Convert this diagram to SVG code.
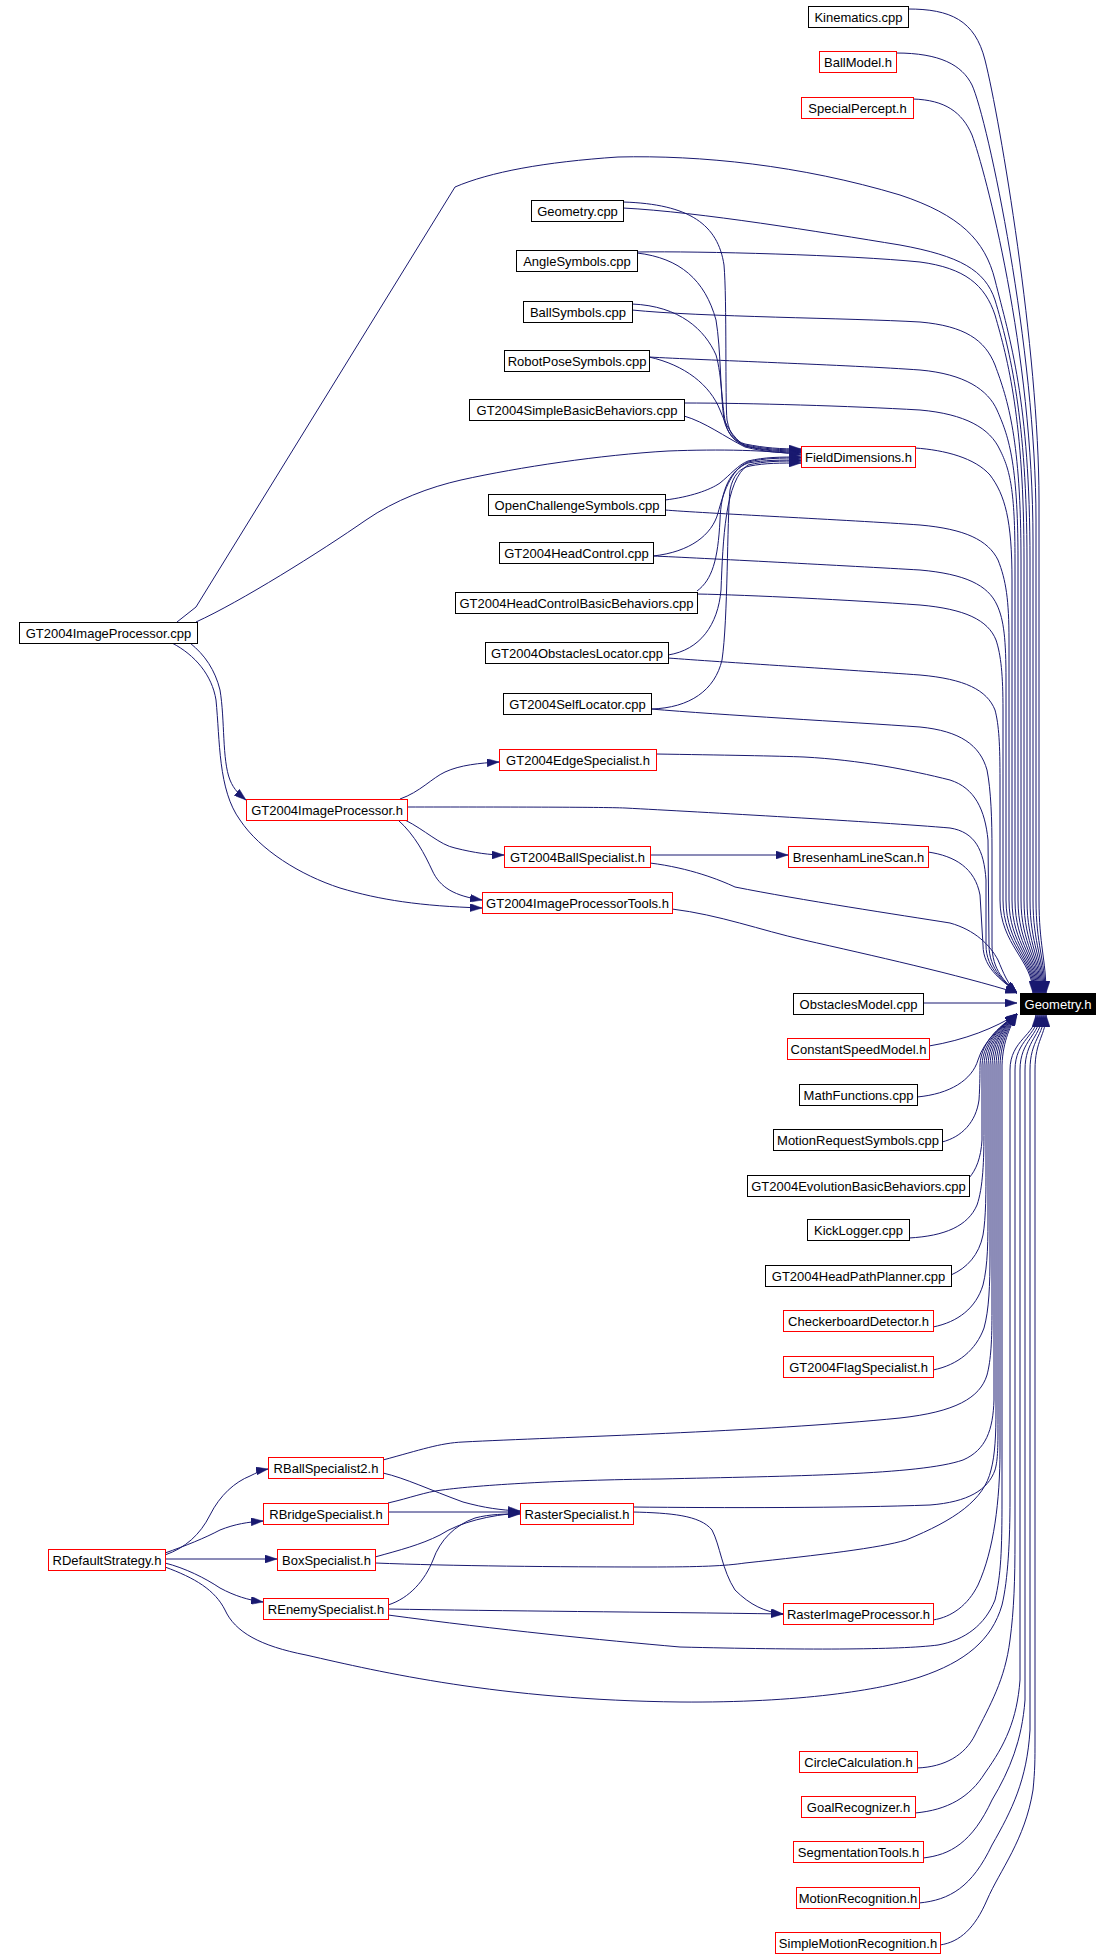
<svg xmlns="http://www.w3.org/2000/svg" width="1111" height="1959" viewBox="0 0 1111 1959">
<style>
.n rect{fill:#fff;stroke:#000;stroke-width:1}
.r rect{stroke:#f00}
.k rect{fill:#000;stroke:#000}
.k text{fill:#fff}
text{font-family:"Liberation Sans",Arial,sans-serif;font-size:13px;text-anchor:middle;fill:#000}
.e path{fill:none;stroke:#191970;stroke-width:1;marker-end:url(#a)}
</style>
<defs>
<marker id="a" viewBox="0 0 12 8" refX="12" refY="4" markerWidth="12" markerHeight="8" markerUnits="userSpaceOnUse" orient="auto"><path d="M0,0L12,4L0,8z" fill="#191970" stroke="#191970" stroke-width="0.5"/></marker>
</defs>
<rect width="1111" height="1959" fill="#fff"/>
<g id="edges" class="e">
<path d="M908,9 C950,9 975,20 985,60 C1000,120 1039,350 1039,500 L1039,900 C1039,945 1046,960 1046,993"/>
<path d="M896,53 C940,53 962,65 972,85 C988,120 1036,350 1036,520 L1036,900 C1036,945 1045,960 1045,993"/>
<path d="M913,99 C945,100 962,112 972,135 C985,170 1033,350 1033,540 L1033,900 C1033,945 1044,960 1044,993"/>
<path d="M177,622 L196,607 L455,187 C490,172 544,162 618,157 C700,155 800,165 900,195 C960,215 985,240 995,280 C1010,340 1030,400 1030,560 L1030,900 C1030,945 1043,960 1043,993"/>
<path d="M623,208 C700,212 820,232 900,245 C960,256 985,270 995,300 C1010,350 1027,420 1027,560 L1027,900 C1027,945 1042,960 1042,993"/>
<path d="M637,252 C700,251 850,255 920,262 C965,268 985,285 995,315 C1008,360 1024,420 1024,560 L1024,900 C1024,945 1041,960 1041,993"/>
<path d="M632,310 C700,317 850,318 920,322 C965,326 985,340 995,365 C1008,400 1021,440 1021,560 L1021,900 C1021,945 1040,960 1040,993"/>
<path d="M649,357 C700,360 850,365 920,370 C965,374 988,390 997,410 C1008,435 1018,460 1018,560 L1018,900 C1018,945 1039,960 1039,993"/>
<path d="M684,403 C750,403 850,406 920,410 C965,414 990,428 1000,450 C1010,470 1015,490 1015,560 L1015,900 C1015,945 1038,960 1038,993"/>
<path d="M915,448 C945,450 975,458 990,475 C1005,495 1012,520 1012,580 L1012,900 C1012,945 1037,960 1037,993"/>
<path d="M665,510 C700,513 850,520 920,525 C965,529 988,540 998,560 C1006,580 1009,600 1009,640 L1009,900 C1009,945 1036,960 1036,993"/>
<path d="M653,556 C700,558 850,566 920,570 C965,574 988,585 997,605 C1004,620 1006,640 1006,680 L1006,900 C1006,945 1035,960 1035,993"/>
<path d="M697,594 C750,595 850,600 920,605 C965,609 988,620 996,640 C1001,655 1003,675 1003,710 L1003,900 C1003,945 1034,960 1034,993"/>
<path d="M668,658 C720,662 850,670 920,675 C965,679 987,690 995,710 C999,725 1000,745 1000,780 L1000,900 C1000,945 1033,960 1033,993"/>
<path d="M651,709 C720,715 850,722 920,727 C960,731 980,745 987,770 C991,790 992,820 992,850 L992,945 C992,970 1005,982 1017,993"/>
<path d="M656,754 C720,755 780,756 804,757 C860,760 910,770 950,780 C975,788 985,810 988,840 L989,945 C989,970 1005,982 1017,993"/>
<path d="M407,807 C500,807 600,807 625,808 C700,812 880,822 950,828 C975,832 984,850 986,880 L986,945 C986,970 1005,982 1017,993"/>
<path d="M928,852 C955,856 975,868 980,895 L983,945 C983,970 1005,982 1017,993"/>
<path d="M650,863 C690,868 720,880 735,887 C800,900 900,915 950,923 C975,930 990,945 998,960 C1003,972 1008,985 1017,993"/>
<path d="M672,909 C720,915 760,930 804,940 C870,955 960,975 1017,993"/>
<path d="M923,1003 L1017,1003"/>
<path d="M929,1046 C965,1040 995,1028 1017,1014"/>
<path d="M917,1097 C950,1094 972,1080 978,1060 C984,1040 1003,1024 1017,1014"/>
<path d="M942,1142 C962,1137 976,1122 979,1100 C980,1085 980,1070 980,1065 C981,1040 1003,1024 1017,1014"/>
<path d="M969,1178 C976,1170 981,1158 982,1140 L982,1065 C983,1040 1004,1024 1017,1014"/>
<path d="M909,1238 C945,1236 968,1226 977,1205 C983,1188 984,1160 984,1130 L984,1065 C985,1040 1004,1024 1017,1014"/>
<path d="M951,1275 C967,1268 979,1255 983,1235 C986,1218 986,1190 986,1170 L986,1065 C987,1040 1005,1024 1017,1014"/>
<path d="M933,1327 C958,1322 976,1308 983,1285 C988,1265 988,1240 988,1210 L988,1065 C989,1040 1005,1025 1017,1014"/>
<path d="M933,1370 C958,1365 976,1350 984,1328 C989,1310 990,1285 990,1255 L990,1065 C991,1040 1006,1025 1017,1014"/>
<path d="M383,1460 C420,1450 440,1443 463,1442 C560,1437 760,1432 900,1418 C955,1412 980,1398 987,1375 C991,1360 992,1340 992,1310 L992,1065 C993,1040 1006,1025 1017,1014"/>
<path d="M388,1503 C410,1498 425,1492 442,1490 C480,1485 560,1480 660,1479 C790,1476 920,1475 963,1460 C986,1450 993,1430 994,1400 L994,1065 C995,1040 1007,1025 1017,1014"/>
<path d="M375,1563 C450,1566 560,1567 648,1567 C700,1567 725,1566 745,1563 C820,1555 880,1548 906,1540 C955,1520 984,1500 991,1470 C995,1455 996,1435 996,1410 L996,1065 C997,1040 1008,1025 1017,1014"/>
<path d="M633,1507 C720,1508 850,1508 930,1505 C968,1502 988,1490 995,1470 C998,1460 998,1445 998,1420 L998,1065 C999,1040 1009,1025 1017,1014"/>
<path d="M933,1620 C952,1617 968,1605 978,1585 C994,1550 1000,1500 1000,1450 L1000,1065 C1001,1040 1010,1025 1017,1014"/>
<path d="M388,1615 C500,1630 600,1640 680,1647 C800,1650 900,1650 938,1645 C965,1640 985,1625 995,1600 C1001,1575 1002,1550 1002,1500 L1002,1065 C1003,1040 1011,1025 1017,1014"/>
<path d="M165,1567 C195,1578 215,1590 225,1610 C235,1632 260,1646 306,1655 C380,1672 500,1700 680,1702 C800,1703 880,1690 920,1677 C965,1662 992,1640 1002,1605 C1008,1580 1010,1540 1010,1500 L1010,1070 C1010,1040 1036,1035 1036,1015"/>
<path d="M917,1768 C945,1767 965,1755 975,1735 C990,1705 1005,1680 1010,1640 C1014,1610 1015,1580 1015,1540 L1015,1070 C1015,1040 1038,1035 1038,1015"/>
<path d="M915,1813 C948,1810 970,1797 985,1773 C1005,1745 1017,1720 1020,1680 L1020,1070 C1020,1040 1040,1035 1040,1015"/>
<path d="M923,1858 C950,1855 972,1843 992,1800 C1010,1770 1022,1740 1025,1700 L1025,1070 C1025,1040 1042,1035 1042,1015"/>
<path d="M919,1903 C950,1900 972,1887 992,1845 C1012,1810 1027,1780 1030,1730 L1030,1070 C1030,1040 1044,1035 1044,1015"/>
<path d="M940,1945 C960,1942 975,1928 987,1900 C1000,1870 1025,1840 1033,1790 C1035,1770 1035,1760 1035,1740 L1035,1070 C1035,1040 1046,1035 1046,1015"/>
<path d="M623,202 C690,204 718,225 724,265 C727,300 725,400 727,420 C730,435 735,441 745,444 C765,448 780,449 801,449"/>
<path d="M637,253 C680,258 705,280 716,320 C721,350 720,390 724,420 C727,432 733,441 745,445 C765,449 780,450 801,450"/>
<path d="M632,304 C680,306 705,330 716,355 C722,375 722,410 726,425 C729,435 735,442 745,446 C765,450 780,451 801,451"/>
<path d="M649,357 C685,365 710,385 720,410 C726,425 732,437 745,446 C765,451 780,452 801,452"/>
<path d="M684,416 C705,422 725,437 745,447 C765,452 780,453 801,453"/>
<path d="M196,622 C240,602 320,552 366,520 C395,500 430,487 461,480 C520,467 600,455 668,451 C720,449 770,450 801,455"/>
<path d="M665,500 C690,497 710,490 720,483 C730,475 738,465 748,461 C765,457 780,457 801,457"/>
<path d="M653,556 C690,552 712,535 718,513 C723,495 730,470 748,462 C765,458 780,458 801,458"/>
<path d="M697,591 C712,580 718,560 720,520 C721,490 730,470 748,463 C765,460 780,460 801,460"/>
<path d="M668,655 C700,650 718,625 721,590 C723,540 725,480 748,465 C765,461 780,461 801,461"/>
<path d="M651,709 C690,708 715,690 722,660 C728,620 727,520 730,490 C733,475 740,468 750,466 C765,463 780,463 801,463"/>
<path d="M190,643 C205,655 215,670 220,690 C225,720 222,760 230,780 C234,790 240,795 246,800"/>
<path d="M172,643 C195,655 212,675 216,700 C220,740 218,790 240,820 C260,850 300,875 340,888 C380,900 420,906 482,908"/>
<path d="M400,799 C420,792 432,778 445,772 C460,765 480,763 499,762"/>
<path d="M405,820 C425,830 440,845 455,848 C475,853 490,855 504,855"/>
<path d="M398,820 C415,835 425,855 432,870 C440,888 455,896 482,900"/>
<path d="M650,855 L788,855"/>
<path d="M165,1555 C185,1548 200,1535 210,1515 C220,1495 235,1482 250,1476 C256,1473 262,1470 268,1469"/>
<path d="M165,1553 C185,1546 205,1538 220,1530 C235,1524 248,1522 263,1521"/>
<path d="M165,1559 L277,1559"/>
<path d="M165,1563 C185,1568 205,1578 220,1588 C235,1596 248,1600 263,1602"/>
<path d="M383,1473 C405,1478 430,1490 463,1502 C485,1508 500,1510 520,1511"/>
<path d="M388,1512 L520,1512"/>
<path d="M375,1557 C400,1550 420,1545 440,1535 C460,1522 490,1515 520,1513"/>
<path d="M388,1605 C410,1598 425,1580 433,1560 C440,1540 455,1525 475,1518 C490,1514 505,1514 520,1514"/>
<path d="M388,1609 C500,1611 650,1612 783,1614"/>
<path d="M633,1512 C670,1513 700,1515 712,1530 C720,1545 722,1570 735,1590 C750,1605 765,1612 783,1614"/>
</g>
<g id="nodes">
<g id="n_kinematics_cpp" class="n"><rect x="808.5" y="6.5" width="100" height="21"/><text x="858.5" y="22">Kinematics.cpp</text></g>
<g id="n_ballmodel_h" class="n r"><rect x="819.5" y="51.5" width="77" height="21"/><text x="858" y="67">BallModel.h</text></g>
<g id="n_specialpercept_h" class="n r"><rect x="801.5" y="97.5" width="112" height="21"/><text x="857.5" y="113">SpecialPercept.h</text></g>
<g id="n_geometry_cpp" class="n"><rect x="531.5" y="200.5" width="92" height="21"/><text x="577.5" y="216">Geometry.cpp</text></g>
<g id="n_anglesymbols_cpp" class="n"><rect x="516.5" y="250.5" width="121" height="21"/><text x="577" y="266">AngleSymbols.cpp</text></g>
<g id="n_ballsymbols_cpp" class="n"><rect x="523.5" y="301.5" width="109" height="21"/><text x="578" y="317">BallSymbols.cpp</text></g>
<g id="n_robotposesymbols_cpp" class="n"><rect x="504.5" y="350.5" width="145" height="21"/><text x="577" y="366">RobotPoseSymbols.cpp</text></g>
<g id="n_gt2004simplebasicbehaviors_cpp" class="n"><rect x="469.5" y="399.5" width="215" height="21"/><text x="577" y="415">GT2004SimpleBasicBehaviors.cpp</text></g>
<g id="n_fielddimensions_h" class="n r"><rect x="801.5" y="446.5" width="114" height="21"/><text x="858.5" y="462">FieldDimensions.h</text></g>
<g id="n_openchallengesymbols_cpp" class="n"><rect x="488.5" y="494.5" width="177" height="21"/><text x="577" y="510">OpenChallengeSymbols.cpp</text></g>
<g id="n_gt2004headcontrol_cpp" class="n"><rect x="499.5" y="542.5" width="154" height="21"/><text x="576.5" y="558">GT2004HeadControl.cpp</text></g>
<g id="n_gt2004headcontrolbasicbehaviors_cpp" class="n"><rect x="455.5" y="592.5" width="242" height="21"/><text x="576.5" y="608">GT2004HeadControlBasicBehaviors.cpp</text></g>
<g id="n_gt2004obstacleslocator_cpp" class="n"><rect x="485.5" y="642.5" width="183" height="21"/><text x="577" y="658">GT2004ObstaclesLocator.cpp</text></g>
<g id="n_gt2004selflocator_cpp" class="n"><rect x="503.5" y="693.5" width="148" height="21"/><text x="577.5" y="709">GT2004SelfLocator.cpp</text></g>
<g id="n_gt2004imageprocessor_cpp" class="n"><rect x="19.5" y="622.5" width="178" height="21"/><text x="108.5" y="638">GT2004ImageProcessor.cpp</text></g>
<g id="n_gt2004edgespecialist_h" class="n r"><rect x="499.5" y="749.5" width="157" height="21"/><text x="578" y="765">GT2004EdgeSpecialist.h</text></g>
<g id="n_gt2004imageprocessor_h" class="n r"><rect x="246.5" y="799.5" width="161" height="21"/><text x="327" y="815">GT2004ImageProcessor.h</text></g>
<g id="n_gt2004ballspecialist_h" class="n r"><rect x="504.5" y="846.5" width="146" height="21"/><text x="577.5" y="862">GT2004BallSpecialist.h</text></g>
<g id="n_bresenhamlinescan_h" class="n r"><rect x="788.5" y="846.5" width="140" height="21"/><text x="858.5" y="862">BresenhamLineScan.h</text></g>
<g id="n_gt2004imageprocessortools_h" class="n r"><rect x="482.5" y="892.5" width="190" height="21"/><text x="577.5" y="908">GT2004ImageProcessorTools.h</text></g>
<g id="n_geometry_h" class="n k"><rect x="1020.5" y="993.5" width="75" height="21"/><text x="1058" y="1009">Geometry.h</text></g>
<g id="n_obstaclesmodel_cpp" class="n"><rect x="793.5" y="993.5" width="130" height="21"/><text x="858.5" y="1009">ObstaclesModel.cpp</text></g>
<g id="n_constantspeedmodel_h" class="n r"><rect x="787.5" y="1038.5" width="142" height="21"/><text x="858.5" y="1054">ConstantSpeedModel.h</text></g>
<g id="n_mathfunctions_cpp" class="n"><rect x="799.5" y="1084.5" width="118" height="21"/><text x="858.5" y="1100">MathFunctions.cpp</text></g>
<g id="n_motionrequestsymbols_cpp" class="n"><rect x="773.5" y="1129.5" width="169" height="21"/><text x="858" y="1145">MotionRequestSymbols.cpp</text></g>
<g id="n_gt2004evolutionbasicbehaviors_cpp" class="n"><rect x="747.5" y="1175.5" width="222" height="21"/><text x="858.5" y="1191">GT2004EvolutionBasicBehaviors.cpp</text></g>
<g id="n_kicklogger_cpp" class="n"><rect x="807.5" y="1219.5" width="102" height="21"/><text x="858.5" y="1235">KickLogger.cpp</text></g>
<g id="n_gt2004headpathplanner_cpp" class="n"><rect x="765.5" y="1265.5" width="186" height="21"/><text x="858.5" y="1281">GT2004HeadPathPlanner.cpp</text></g>
<g id="n_checkerboarddetector_h" class="n r"><rect x="783.5" y="1310.5" width="150" height="21"/><text x="858.5" y="1326">CheckerboardDetector.h</text></g>
<g id="n_gt2004flagspecialist_h" class="n r"><rect x="783.5" y="1356.5" width="150" height="21"/><text x="858.5" y="1372">GT2004FlagSpecialist.h</text></g>
<g id="n_rballspecialist2_h" class="n r"><rect x="268.5" y="1457.5" width="115" height="21"/><text x="326" y="1473">RBallSpecialist2.h</text></g>
<g id="n_rbridgespecialist_h" class="n r"><rect x="263.5" y="1503.5" width="125" height="21"/><text x="326" y="1519">RBridgeSpecialist.h</text></g>
<g id="n_rasterspecialist_h" class="n r"><rect x="520.5" y="1503.5" width="113" height="21"/><text x="577" y="1519">RasterSpecialist.h</text></g>
<g id="n_rdefaultstrategy_h" class="n r"><rect x="48.5" y="1549.5" width="117" height="21"/><text x="107" y="1565">RDefaultStrategy.h</text></g>
<g id="n_boxspecialist_h" class="n r"><rect x="277.5" y="1549.5" width="98" height="21"/><text x="326.5" y="1565">BoxSpecialist.h</text></g>
<g id="n_renemyspecialist_h" class="n r"><rect x="263.5" y="1598.5" width="125" height="21"/><text x="326" y="1614">REnemySpecialist.h</text></g>
<g id="n_rasterimageprocessor_h" class="n r"><rect x="783.5" y="1603.5" width="150" height="21"/><text x="858.5" y="1619">RasterImageProcessor.h</text></g>
<g id="n_circlecalculation_h" class="n r"><rect x="799.5" y="1751.5" width="118" height="21"/><text x="858.5" y="1767">CircleCalculation.h</text></g>
<g id="n_goalrecognizer_h" class="n r"><rect x="801.5" y="1796.5" width="114" height="21"/><text x="858.5" y="1812">GoalRecognizer.h</text></g>
<g id="n_segmentationtools_h" class="n r"><rect x="793.5" y="1841.5" width="130" height="21"/><text x="858.5" y="1857">SegmentationTools.h</text></g>
<g id="n_motionrecognition_h" class="n r"><rect x="796.5" y="1887.5" width="123" height="21"/><text x="858" y="1903">MotionRecognition.h</text></g>
<g id="n_simplemotionrecognition_h" class="n r"><rect x="775.5" y="1932.5" width="165" height="21"/><text x="858" y="1948">SimpleMotionRecognition.h</text></g>
</g>
</svg>
